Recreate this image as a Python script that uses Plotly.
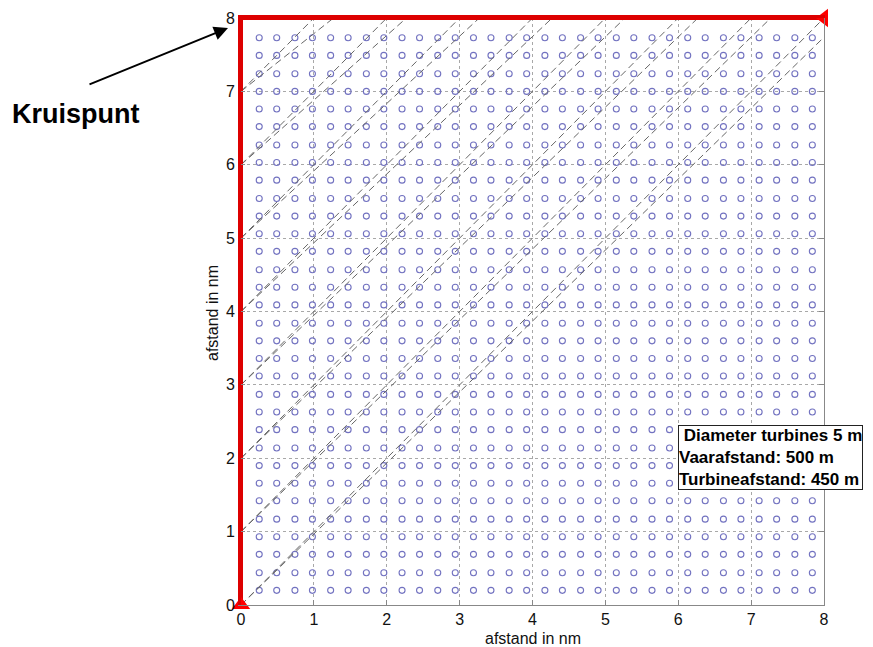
import numpy as np
import plotly.graph_objects as go

# turbine positions (nm)
turbine_x = [0.25, 0.49, 0.74, 0.98, 1.23, 1.47, 1.72, 1.96, 2.21, 2.45, 2.70, 2.94,
             3.19, 3.43, 3.68, 3.92, 4.17, 4.41, 4.66, 4.90, 5.15, 5.39, 5.64, 5.88,
             6.13, 6.37, 6.62, 6.86, 7.11, 7.35, 7.60, 7.84]
turbine_y = [0.20, 0.44, 0.69, 0.93, 1.17, 1.42, 1.66, 1.90, 2.14, 2.39, 2.63, 2.87,
             3.12, 3.36, 3.60, 3.84, 4.09, 4.33, 4.57, 4.82, 5.06, 5.30, 5.54, 5.79,
             6.03, 6.27, 6.52, 6.76, 7.00, 7.24, 7.49, 7.73]

# dashed sight lines: start on the left edge (x=0) at track_start_y,
# end on the top edge (y=8) at track_end_x
track_start_y = [0, 0, 1, 1, 2, 2, 3, 3, 4, 4, 5, 5, 6, 6, 7, 7]
track_end_x = [8, 8.27, 7, 7.27, 6, 6.27, 5, 5.27, 4, 4.27, 3, 3.27, 2, 2.27, 1, 1.27]

# route along the border
route_x = [0, 0, 8]
route_y = [0, 8, 8]

ticks = [0, 1, 2, 3, 4, 5, 6, 7, 8]
axis_title = "afstand in nm"
info_lines = ["\u00a0Diameter turbines 5 m", "Vaarafstand: 500 m", "Turbineafstand: 450 m"]

FONT = "Arial, Liberation Sans, sans-serif"
L, R, T, B = 241, 49, 18, 42
W, H = 873, 647
PW, PH = W - L - R, H - T - B
RED = "#dd0000"
GRAY = "#888888"


def px(x):
    return (x - L) / PW


def py(y):
    return (H - B - y) / PH


fig = go.Figure()

gx, gy = np.meshgrid(turbine_x, turbine_y)
fig.add_trace(go.Scatter(
    x=gx.ravel(), y=gy.ravel(), mode="markers",
    marker=dict(symbol="circle-open", size=6, color="#7272c0", line=dict(width=1.1)),
    hoverinfo="skip", showlegend=False))

tx, ty = [], []
for sy, ex in zip(track_start_y, track_end_x):
    tx += [0, ex, None]
    ty += [sy, 8, None]
fig.add_trace(go.Scatter(
    x=tx, y=ty, mode="lines",
    line=dict(color="#666666", width=1, dash="7px,4px"),
    hoverinfo="skip", showlegend=False))

fig.add_trace(go.Scatter(
    x=route_x, y=route_y, mode="lines",
    line=dict(color=RED, width=4),
    hoverinfo="skip", showlegend=False))
fig.add_trace(go.Scatter(
    x=[route_x[0]], y=[route_y[0]], mode="markers",
    marker=dict(symbol="triangle-up", size=16, color="#ff0000"),
    cliponaxis=False, hoverinfo="skip", showlegend=False))
fig.add_trace(go.Scatter(
    x=[route_x[-1]], y=[route_y[-1]], mode="markers",
    marker=dict(symbol="triangle-left", size=16, color="#ff0000"),
    cliponaxis=False, hoverinfo="skip", showlegend=False))

tickfont = dict(family=FONT, size=16, color="#111111")
base = dict(range=[0, 8], tickvals=ticks, zeroline=False, automargin=False)

fig.update_layout(
    xaxis=dict(**base, ticktext=[str(t) for t in ticks], side="bottom",
               showgrid=True, gridcolor="#a8a8a8", griddash="dot", gridwidth=1,
               showline=True, linecolor=GRAY, linewidth=1,
               ticks="inside", ticklen=5, tickcolor=GRAY, tickfont=tickfont),
    xaxis2=dict(**base, overlaying="x", side="top", showgrid=False,
                showline=True, linecolor=RED, linewidth=3,
                ticks="", showticklabels=False),
    yaxis=dict(**base, ticktext=[str(t) for t in ticks], side="left",
               showgrid=True, gridcolor="#a8a8a8", griddash="dot", gridwidth=1,
               showline=True, linecolor=RED, linewidth=3,
               ticks="inside", ticklen=4, tickcolor=GRAY, tickfont=tickfont),
    yaxis2=dict(**base, overlaying="y", side="right", showgrid=False,
                showline=True, linecolor=GRAY, linewidth=1,
                ticks="inside", ticklen=5, tickcolor=GRAY, showticklabels=False),
)
# invisible trace to activate the secondary axes
fig.add_trace(go.Scatter(x=[None], y=[None], xaxis="x2", yaxis="y2",
                         showlegend=False, hoverinfo="skip"))

# axis titles
fig.add_annotation(xref="paper", yref="paper", x=px(533), y=py(638),
                   xanchor="center", yanchor="middle", showarrow=False,
                   text=axis_title, font=dict(family=FONT, size=16, color="#111111"))
fig.add_annotation(xref="paper", yref="paper", x=px(212), y=py(313),
                   xanchor="center", yanchor="middle", showarrow=False, textangle=-90,
                   text=axis_title, font=dict(family=FONT, size=16, color="#111111"))

fig.add_annotation(
    xref="paper", yref="paper", x=px(678), y=py(425),
    xanchor="left", yanchor="top", align="left", showarrow=False,
    text="<b>" + "<br>".join(info_lines) + "</b>",
    font=dict(family=FONT, size=17, color="#000000"),
    bgcolor="#ffffff", bordercolor="#222222", borderwidth=1, borderpad=0)

fig.add_annotation(
    xref="paper", yref="paper", x=px(76), y=py(114),
    xanchor="center", yanchor="middle", showarrow=False,
    text="<b>Kruispunt</b>",
    font=dict(family=FONT, size=27, color="#000000"))

fig.add_annotation(
    xref="paper", yref="paper", x=px(228), y=py(28),
    text="", showarrow=True, axref="pixel", ayref="pixel", ax=-140, ay=57,
    arrowhead=2, arrowsize=1.4, arrowwidth=2, arrowcolor="#000000")

fig.update_layout(
    width=W, height=H,
    margin=dict(l=L, r=R, t=T, b=B, autoexpand=False),
    paper_bgcolor="#ffffff", plot_bgcolor="#ffffff",
    showlegend=False,
)

fig.write_html("out.html", config={"displayModeBar": False},
               post_script="document.body.style.margin='0';document.body.style.overflow='hidden';")
